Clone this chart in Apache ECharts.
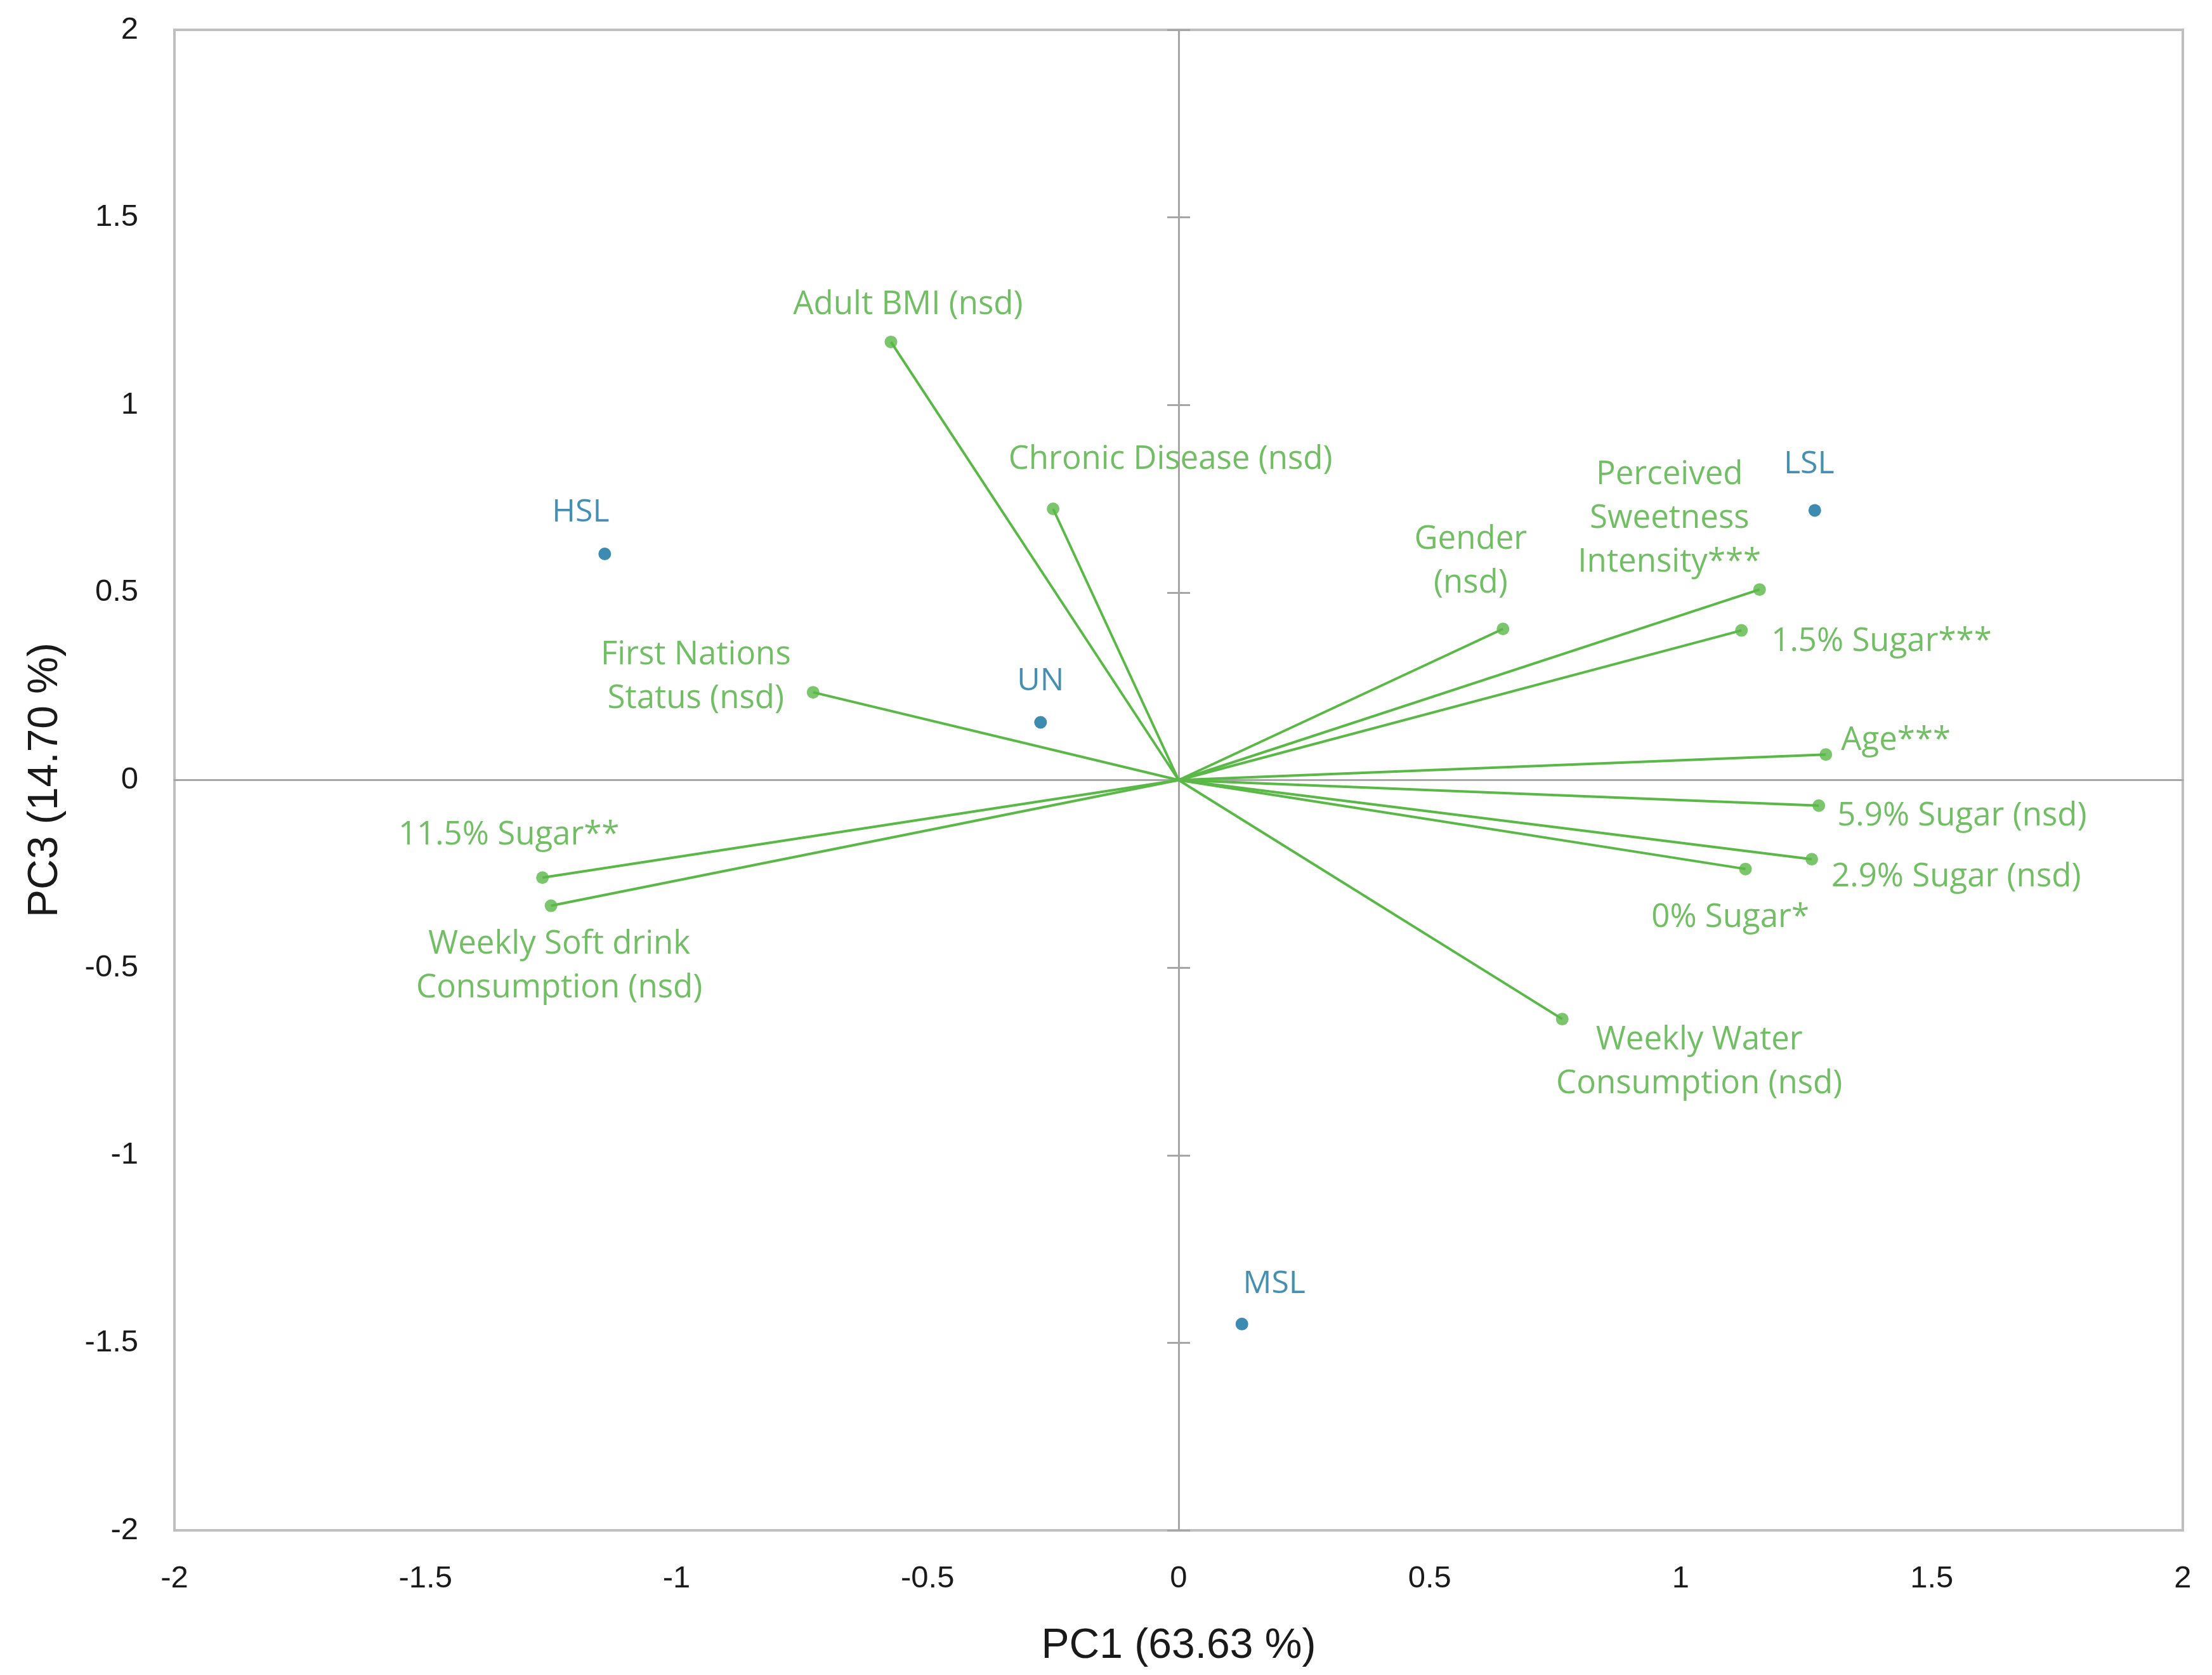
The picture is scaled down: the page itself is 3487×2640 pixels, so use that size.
<!DOCTYPE html>
<html>
<head>
<meta charset="utf-8">
<script src="https://cdn.jsdelivr.net/npm/echarts@6/dist/echarts.min.js"></script>
<style>
html,body{margin:0;padding:0;background:#fff;}
#chart{width:3487px;height:2640px;}
</style>
</head>
<body>
<div id="chart"></div>
<script>
// ---- data ----
const varNames = [
  'Adult BMI (nsd)',
  'Chronic Disease (nsd)',
  'First Nations\nStatus (nsd)',
  '11.5% Sugar**',
  'Weekly Soft drink\nConsumption (nsd)',
  'Gender\n(nsd)',
  'Perceived\nSweetness\nIntensity***',
  '1.5% Sugar***',
  'Age***',
  '5.9% Sugar (nsd)',
  '2.9% Sugar (nsd)',
  '0% Sugar*',
  'Weekly Water\nConsumption (nsd)'
];
const varPC1 = [-0.573, -0.250, -0.728, -1.267, -1.250, 0.646, 1.157, 1.121, 1.289, 1.275, 1.261, 1.129, 0.764];
const varPC3 = [1.168, 0.723, 0.234, -0.260, -0.335, 0.403, 0.508, 0.399, 0.068, -0.068, -0.211, -0.237, -0.637];

const groupNames = ['HSL', 'UN', 'LSL', 'MSL'];
const groupPC1 = [-1.143, -0.275, 1.267, 0.126];
const groupPC3 = [0.603, 0.154, 0.719, -1.450];

const axisTicks = [-2, -1.5, -1, -0.5, 0, 0.5, 1, 1.5, 2];
const xTitle = 'PC1 (63.63 %)';
const yTitle = 'PC3 (14.70 %)';

// ---- label placement (pixel offsets from the marker) ----
const varLabelLayout = [
  {offset: [27, -58], align: 'center'},
  {offset: [185, -78], align: 'center'},
  {offset: [-185, -24], align: 'center'},
  {offset: [-53, -67], align: 'center'},
  {offset: [13, 95], align: 'center'},
  {offset: [-51, -106], align: 'center'},
  {offset: [-142, -112], align: 'center'},
  {offset: [47, 18], align: 'left'},
  {offset: [24, -22], align: 'left'},
  {offset: [29, 17], align: 'left'},
  {offset: [31, 28], align: 'left'},
  {offset: [-24, 77], align: 'center'},
  {offset: [216, 68], align: 'center'}
];
const groupLabelLayout = [
  {offset: [-38, -65]},
  {offset: [0, -65]},
  {offset: [-9, -73]},
  {offset: [51, -63]}
];

const GREEN = '#5ab847';
const GREEN_TEXT = '#4fae3d';
const BLUE = '#0b6e9c';
const BLUE_TEXT = '#17749f';
const LABEL_FONT = '"Open Sans", "Noto Sans", sans-serif';
const AXIS_FONT = '"Liberation Sans", Arial, sans-serif';

const vectorData = varNames.map((n, i) => ({coords: [[0, 0], [varPC1[i], varPC3[i]]]}));
const endpointData = varNames.map((n, i) => ({
  name: n,
  value: [varPC1[i], varPC3[i]],
  label: {
    offset: varLabelLayout[i].offset,
    align: varLabelLayout[i].align
  }
}));
const groupData = groupNames.map((n, i) => ({
  name: n,
  value: [groupPC1[i], groupPC3[i]],
  label: {offset: groupLabelLayout[i].offset}
}));

const chart = echarts.init(document.getElementById('chart'), null, {renderer: 'canvas'});

const baseAxis = {
  type: 'value', min: -2, max: 2, interval: 0.5
};

chart.setOption({
  backgroundColor: '#ffffff',
  animation: false,
  grid: {
    left: 275, right: 46, top: 47, bottom: 228,
    show: true, borderColor: '#bfbfbf', borderWidth: 4, backgroundColor: 'transparent'
  },
  xAxis: [
    Object.assign({}, baseAxis, {
      position: 'bottom',
      axisLine: {show: false, onZero: false},
      axisTick: {show: false},
      splitLine: {show: false},
      axisLabel: {
        show: true, margin: 52, fontSize: 49, color: '#1a1a1a', fontFamily: AXIS_FONT,
        formatter: v => axisTicks.includes(v) ? String(v) : ''
      },
      name: xTitle, nameLocation: 'middle', nameGap: 150,
      nameTextStyle: {fontSize: 66, color: '#1a1a1a', fontFamily: AXIS_FONT}
    }),
    Object.assign({}, baseAxis, {
      axisLine: {show: true, onZero: true, onZeroAxisIndex: 0, lineStyle: {color: '#a6a6a6', width: 3}},
      axisTick: {show: false},
      axisLabel: {show: false},
      splitLine: {show: false}
    })
  ],
  yAxis: [
    Object.assign({}, baseAxis, {
      position: 'left',
      axisLine: {show: false, onZero: false},
      axisTick: {show: false},
      splitLine: {show: false},
      axisLabel: {
        show: true, margin: 57, fontSize: 49, color: '#1a1a1a', fontFamily: AXIS_FONT,
        formatter: v => axisTicks.includes(v) ? String(v) : ''
      },
      name: yTitle, nameLocation: 'middle', nameGap: 170, nameRotate: 90,
      nameTextStyle: {fontSize: 66, color: '#1a1a1a', fontFamily: AXIS_FONT}
    }),
    Object.assign({}, baseAxis, {
      axisLine: {show: true, onZero: true, onZeroAxisIndex: 0, lineStyle: {color: '#a6a6a6', width: 3}},
      axisTick: {show: true, inside: true, length: 18, lineStyle: {color: '#a6a6a6', width: 3}},
      axisLabel: {show: false},
      splitLine: {show: false}
    }),
    Object.assign({}, baseAxis, {
      axisLine: {show: false, onZero: true, onZeroAxisIndex: 0},
      axisTick: {show: true, inside: false, length: 18, lineStyle: {color: '#a6a6a6', width: 3}},
      axisLabel: {show: false},
      splitLine: {show: false}
    })
  ],
  series: [
    {
      type: 'lines',
      coordinateSystem: 'cartesian2d',
      xAxisIndex: 0, yAxisIndex: 0,
      polyline: false,
      silent: true,
      lineStyle: {color: GREEN, width: 4, opacity: 1},
      data: vectorData,
      z: 3
    },
    {
      type: 'scatter',
      xAxisIndex: 0, yAxisIndex: 0,
      symbol: 'circle', symbolSize: 20,
      itemStyle: {color: GREEN},
      label: {
        show: true, position: 'inside', verticalAlign: 'middle',
        formatter: p => p.name,
        fontSize: 51, lineHeight: 69, color: GREEN_TEXT, fontFamily: LABEL_FONT
      },
      data: endpointData,
      z: 4
    },
    {
      type: 'scatter',
      xAxisIndex: 0, yAxisIndex: 0,
      symbol: 'circle', symbolSize: 20,
      itemStyle: {color: BLUE},
      label: {
        show: true, position: 'inside', align: 'center', verticalAlign: 'middle',
        formatter: p => p.name,
        fontSize: 50, color: BLUE_TEXT, fontFamily: LABEL_FONT
      },
      data: groupData,
      z: 5
    }
  ]
});
</script>
</body>
</html>
